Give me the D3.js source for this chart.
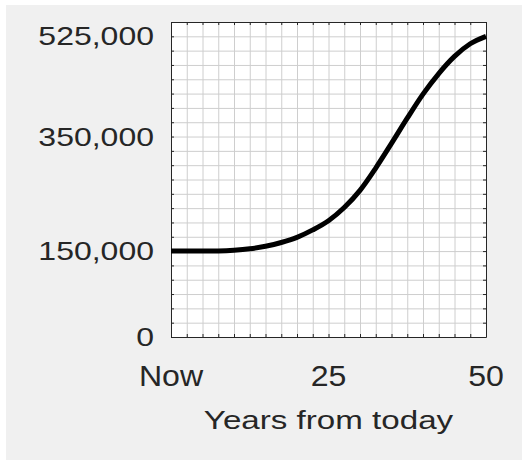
<!DOCTYPE html>
<html>
  <head>
    <meta charset="utf-8">
    <title>Years from today</title>
    <script src="https://d3js.org/d3.v7.min.js"></script>
    <style>
      body { margin: 0; background: #fff; }
      text { font-family: "Liberation Sans", Arial, sans-serif; fill: #262626; }
    </style>
  </head>
  <body>
    <div id="chart"></div>
    <script>
      // curve (years, value)
      var years = [0, 2.5, 5, 7.5, 10, 12.5, 15, 17.5, 20, 22.5, 25, 27.5, 30, 32.5, 35, 37.5, 40, 42.5, 45, 47.5, 50];
      var values = [150000, 150000, 150000, 150300, 151500, 154000, 158500, 165000, 174000, 187000, 203000, 226000, 256000, 295000, 338000, 382000, 424000, 460000, 490000, 512000, 525000];

      var yTicks = [0, 150000, 350000, 525000];
      var xTicks = [0, 25, 50];
      var xTickLabels = ["Now", "25", "50"];
      var xTitle = "Years from today";

      var margin = { top: 22, right: 36, bottom: 123, left: 171 };
      var width = 522 - margin.left - margin.right;
      var height = 460 - margin.top - margin.bottom;

      var svg = d3.select("#chart").append("svg")
        .attr("width", 522)
        .attr("height", 460);

      // grey figure background
      svg.append("rect")
        .attr("x", 6).attr("y", 5)
        .attr("width", 516).attr("height", 455)
        .attr("fill", "#f0f0f0");

      var g = svg.append("g")
        .attr("transform", "translate(" + margin.left + "," + margin.top + ")");

      var x = d3.scaleLinear().domain([0, 50]).range([0, width]);
      var y = d3.scaleLinear().domain([0, 550000]).range([height, 0]);

      var xGrid = d3.range(0, 50.01, 2.5);
      var yGrid = d3.range(0, 550001, 25000);

      g.append("rect")
        .attr("width", width).attr("height", height)
        .attr("fill", "#fff");

      // grid
      g.append("g")
        .attr("class", "grid")
        .attr("transform", "translate(0," + height + ")")
        .call(d3.axisBottom(x).tickValues(xGrid).tickSize(-height).tickFormat(""));
      g.append("g")
        .attr("class", "grid")
        .call(d3.axisLeft(y).tickValues(yGrid).tickSize(-width).tickFormat(""));
      g.selectAll(".grid line").attr("stroke", "#cecece");
      g.selectAll(".grid .domain").remove();

      // small inward ticks on every side
      var tl = 3;
      g.append("g").attr("class", "box")
        .attr("transform", "translate(0," + height + ")")
        .call(d3.axisBottom(x).tickValues(xGrid).tickSizeInner(-tl).tickSizeOuter(0).tickFormat(""));
      g.append("g").attr("class", "box")
        .call(d3.axisTop(x).tickValues(xGrid).tickSizeInner(-tl).tickSizeOuter(0).tickFormat(""));
      g.append("g").attr("class", "box")
        .call(d3.axisLeft(y).tickValues(yGrid).tickSizeInner(-tl).tickSizeOuter(0).tickFormat(""));
      g.append("g").attr("class", "box")
        .attr("transform", "translate(" + width + ",0)")
        .call(d3.axisRight(y).tickValues(yGrid).tickSizeInner(-tl).tickSizeOuter(0).tickFormat(""));
      g.selectAll(".box line, .box .domain").attr("stroke", "#262626");

      // the curve
      var pts = years.map(function (d, i) { return [d, values[i]]; });
      var line = d3.line()
        .x(function (d) { return x(d[0]); })
        .y(function (d) { return y(d[1]); })
        .curve(d3.curveMonotoneX);
      g.append("path")
        .datum(pts)
        .attr("d", line)
        .attr("fill", "none")
        .attr("stroke", "#000")
        .attr("stroke-width", 5)
        .attr("stroke-linejoin", "round");

      // y tick labels
      var fmt = d3.format(",");
      g.selectAll("text.ylab")
        .data(yTicks)
        .enter()
        .append("text")
        .attr("class", "ylab")
        .attr("transform", function (d) { return "translate(-17," + y(d) + ") scale(1.28,1)"; })
        .attr("text-anchor", "end")
        .attr("dy", "0.36em")
        .attr("font-size", "25px")
        .text(function (d) { return fmt(d); });

      // x tick labels
      g.selectAll("text.xlab")
        .data(xTicks)
        .enter()
        .append("text")
        .attr("class", "xlab")
        .attr("transform", function (d) { return "translate(" + x(d) + "," + (height + 49) + ") scale(1.07,1)"; })
        .attr("text-anchor", "middle")
        .attr("font-size", "30px")
        .text(function (d, i) { return xTickLabels[i]; });

      // x axis title
      g.append("text")
        .attr("transform", "translate(" + (width / 2) + "," + (height + 92) + ") scale(1.3,1)")
        .attr("text-anchor", "middle")
        .attr("font-size", "25.5px")
        .text(xTitle);
    </script>
  </body>
</html>
